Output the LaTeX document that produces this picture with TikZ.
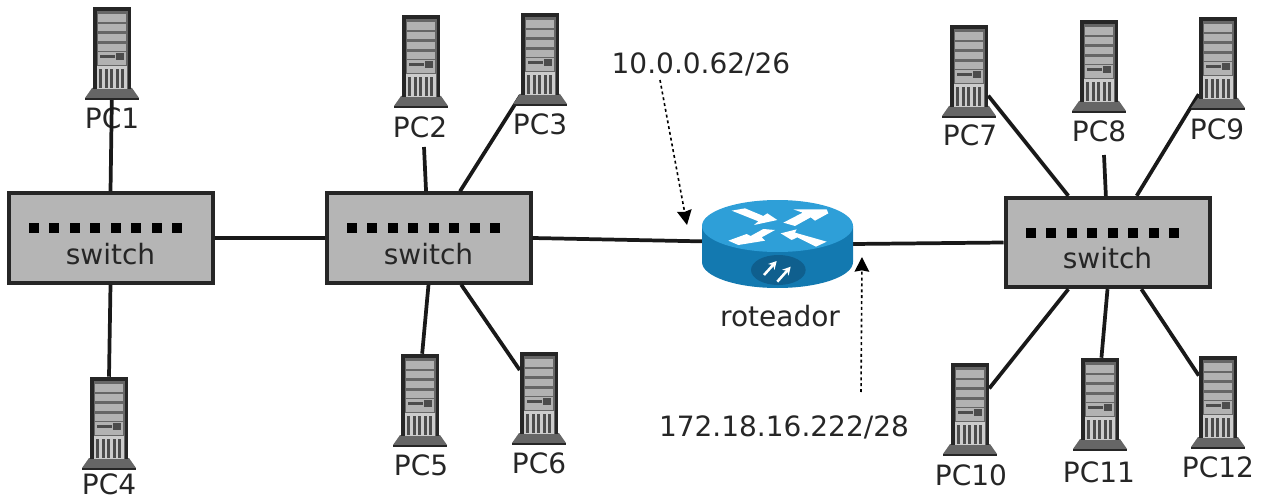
\documentclass[tikz,border=0pt]{standalone}
\usepackage{fontspec}
\setmainfont{DejaVu Sans}
\usetikzlibrary{arrows.meta,calc}
\definecolor{ink}{HTML}{262626}
\definecolor{swfill}{HTML}{B5B5B5}
\definecolor{rtop}{HTML}{2E9FD8}
\definecolor{rside}{HTML}{1379B0}
\definecolor{roval}{HTML}{0F5F8E}
\tikzset{
  x=0.75pt,y=-0.75pt,
  lbl/.style={inner sep=0pt,text=ink,font=\fontsize{21}{24}\selectfont},
  switchbox/.style={draw=ink,line width=3pt,fill=swfill,minimum width=153pt,minimum height=67pt,inner sep=0pt},
  towerbox/.style={inner sep=0pt,minimum width=28.5pt,minimum height=61.5pt},
  routerbox/.style={inner sep=0pt,minimum width=113pt,minimum height=66pt},
  wire/.style={draw=black!90,line width=2.8pt},
  note/.style={draw=black,line width=1.2pt,dash pattern=on 2.2pt off 2.2pt,-{Stealth[length=11pt,width=11pt,inset=1pt]}},
  server/.pic={
    \fill[black!60] (-27,50) -- (-20,40) -- (20,40) -- (27,50) -- cycle;
    \draw[ink,line width=1pt] (-27,51) -- (27,51);
    \fill[ink] (-19,-41) rectangle (19,41);
    \fill[black!60] (-15.5,-37) rectangle (15.5,41);
    \foreach \a/\b in {-34/-26,-24/-17,-14/-7,-4/3}
      \fill[black!30] (-14,\a) rectangle (14,\b);
    \fill[black!30] (-14,4) rectangle (14,17);
    \fill[black!70] (-12,7) rectangle (3,10);
    \fill[black!70] (4,5) rectangle (12,12);
    \fill[black!20] (-15,18) rectangle (15,41);
    \foreach \s in {-13,-7.5,-2,3.5,9}
      \fill[black!70] (\s,21) rectangle (\s+3,40);
  },
  portrow/.pic={
    \foreach \k in {0,...,7}
      \fill[black] (-82+20.5*\k,-15) rectangle (-72+20.5*\k,-5);
  },
  routerbody/.pic={
    \fill[rside] (-75.5,-18) -- (-75.5,18) arc[start angle=180,end angle=0,x radius=75.5,y radius=26] -- (75.5,-18) -- cycle;
    \fill[rtop] (0,-18) ellipse[x radius=75.5,y radius=26];
    \begin{scope}[x=0.25pt,y=-0.25pt,shift={(-292.5,-192)}]
      \fill[white] (155,92) -- (195,85) -- (250,108) -- (262,100) -- (292,120) -- (222,135) -- (235,124) -- cycle;
      \fill[white] (340,88) -- (440,88) -- (445,100) -- (405,122) -- (392,112) -- (345,138) -- (310,128) -- (368,98) -- cycle;
      \fill[white] (145,182) -- (200,162) -- (212,168) -- (250,147) -- (285,150) -- (245,172) -- (255,182) -- (175,195) -- cycle;
      \fill[white] (302,160) -- (350,148) -- (345,158) -- (440,185) -- (408,200) -- (352,172) -- (335,180) -- cycle;
      \fill[roval] (295,270) ellipse[x radius=82,y radius=45];
      \draw[white,line width=1.9pt,-{Stealth[length=6pt,width=6.5pt]}] (252,285) -- (290,243);
      \draw[white,line width=1.9pt,-{Stealth[length=6pt,width=6.5pt]}] (292,305) -- (332,260);
    \end{scope}
  }
}
\begin{document}
\begin{tikzpicture}
\useasboundingbox (0,0) rectangle (1263,499);
% switches
\node[switchbox] (sw1) at (110.5,238) {};
\node[switchbox] (sw2) at (428.5,238) {};
\node[switchbox] (sw3) at (1107.5,242.5) {};
\node[routerbox] (rt) at (777.5,244) {};
% servers
\node[towerbox] (pc1) at (112,48) {};
\node[towerbox] (pc2) at (421,56) {};
\node[towerbox] (pc3) at (540,54) {};
\node[towerbox] (pc4) at (109,418) {};
\node[towerbox] (pc5) at (420,395) {};
\node[towerbox] (pc6) at (539,393) {};
\node[towerbox] (pc7) at (969,66) {};
\node[towerbox] (pc8) at (1099,61) {};
\node[towerbox] (pc9) at (1218,58) {};
\node[towerbox] (pc10) at (970,404) {};
\node[towerbox] (pc11) at (1100,399) {};
\node[towerbox] (pc12) at (1218,397) {};
% labels
\node[lbl] (l1) at (112,118) {PC1};
\node[lbl] (l2) at (420,127) {PC2};
\node[lbl] (l3) at (540,124) {PC3};
\node[lbl] (l4) at (109,484) {PC4};
\node[lbl] (l5) at (421,465) {PC5};
\node[lbl] (l6) at (539,463) {PC6};
\node[lbl] (l7) at (970,135) {PC7};
\node[lbl] (l8) at (1099,131) {PC8};
\node[lbl] (l9) at (1217,129) {PC9};
\node[lbl] (l10) at (971,475) {PC10};
\node[lbl] (l11) at (1099,472) {PC11};
\node[lbl] (l12) at (1218,467) {PC12};
\node[lbl] (lr) at (780,316) {roteador};
\node[lbl] (a1) at (701,64) {10.0.0.62/26};
\node[lbl] (a2) at (784,427) {172.18.16.222/28};
\coordinate (f2) at (424,147);
\coordinate (f8) at (1104,155);
\coordinate (n1s) at (660,80);
\coordinate (n1e) at (687,225);
\coordinate (n2s) at (861,392);
\coordinate (n2e) at (862,257);
% connectors
\draw[wire] (pc1.south) -- (sw1.north);
\draw[wire] (pc4.north) -- (sw1.south);
\draw[wire] (sw1.east) -- (sw2.west);
\draw[wire] (f2) -- (sw2.93);
\draw[wire] (pc3.south west) -- (sw2.56);
\draw[wire] (pc5.87) -- (sw2.south);
\draw[wire] (pc6.130) -- (sw2.-55);
\draw[wire] (sw2.east) -- (rt.178);
\draw[wire] (rt.east) -- (sw3.west);
\draw[wire] (pc7.-57) -- (sw3.130);
\draw[wire] (f8) -- (sw3.92);
\draw[wire] (pc9.242) -- (sw3.58);
\draw[wire] (pc10.39) -- (sw3.230);
\draw[wire] (pc11.88) -- (sw3.south);
\draw[wire] (pc12.132) -- (sw3.-54);
\draw[note] (n1s) -- (n1e);
\draw[note] (n2s) -- (n2e);
% drawn on top
\foreach \n in {pc1,pc2,pc3,pc4,pc5,pc6,pc7,pc8,pc9,pc10,pc11,pc12}
  \pic at (\n) {server};
\pic at (rt) {routerbody};
\foreach \n in {sw1,sw2,sw3}{
  \pic at (\n) {portrow};
  \node[lbl] at ($(\n)+(0,16)$) {switch};
}
\end{tikzpicture}
\end{document}
